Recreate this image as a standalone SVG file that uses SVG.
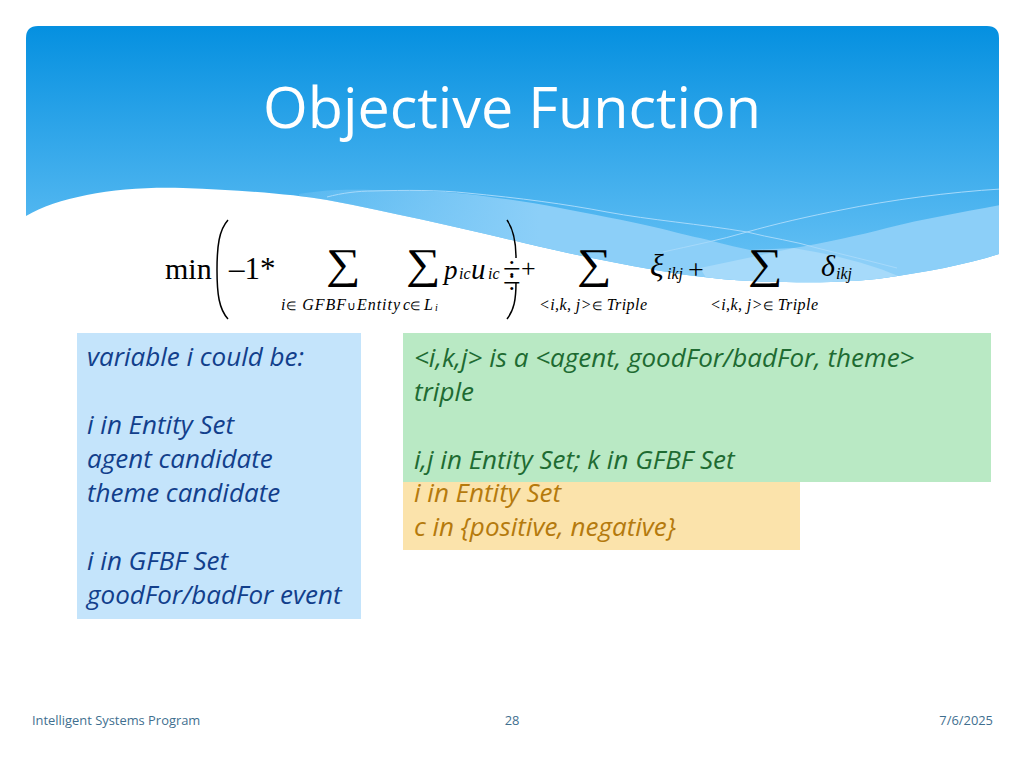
<svg xmlns="http://www.w3.org/2000/svg" width="1024" height="768" viewBox="0 0 1024 768">
<style>
.b{font-family:"Open Sans","Noto Sans",sans-serif;font-style:italic;font-size:26px}
.m{font-family:"Liberation Serif",serif;fill:#000}
.i{font-style:italic}
.s{font-size:16px;font-style:italic}
.e{font-size:12px;font-style:normal}
.big{font-size:42px}
.f{font-family:"Open Sans",sans-serif;font-size:12.9px;fill:#3f6f8f}
.w{fill:none;stroke:#a6d9fa;stroke-width:1}
.p{fill:none;stroke:#000;stroke-width:1.5}
</style>
<defs>
<linearGradient id="sky" gradientUnits="userSpaceOnUse" x1="0" y1="26" x2="0" y2="285"><stop offset="0" stop-color="#0590e0"/><stop offset="1" stop-color="#6cc4f6"/></linearGradient>
<linearGradient id="band" gradientUnits="userSpaceOnUse" x1="300" y1="0" x2="540" y2="0"><stop offset="0" stop-color="#8ccff8" stop-opacity=".25"/><stop offset="1" stop-color="#8ccff8"/></linearGradient>
<clipPath id="wave"><path d="M38 26H987Q999 26 999 38V254C965 265 925 272 884 278C860 281 830 283 786 282C745 282 700 278 655 270C610 262 570 254 524 243C460 228 400 214 327 200C290 194 240 190 183 188C120 186 60 196 26 216V38Q26 26 38 26Z"/></clipPath>
</defs>
<rect width="1024" height="768" fill="#fff"/>
<g id="header" clip-path="url(#wave)">
<rect x="20" y="20" width="985" height="280" fill="url(#sky)"/>
<path d="M299 194C320 190 345 189 373 190C405 190 440 191 467 194C500 198 530 202 560 208C590 214 625 220 654 227C675 232 690 236 700 238C720 243 735 247 750 250L794 248C825 243 860 235 887 228C925 218 965 212 1005 204V300H299Z" fill="url(#band)"/>
<path d="M700 268L794 248C850 258 900 270 940 300H720Z" fill="#a6dafa"/>
<path d="M327 197C342 193 358 191 373 191C405 190 440 190 467 193C520 198 565 204 607 212C650 220 700 224 747 232C770 238 795 241 817 248C845 255 870 261 897 268" class="w"/>
<path d="M663 252C690 246 720 240 747 232C775 224 810 216 841 210C890 200 950 192 1001 189" class="w"/>
</g>
<text id="title" x="512" y="128" text-anchor="middle" font-family="'Open Sans',sans-serif" font-size="57.5" fill="#fff">Objective Function</text>
<g id="formula" class="m">
<text x="165" y="279" font-size="30">min</text>
<path d="M228 220C219 230 217 246 217 270C217 294 219 309 228 319" class="p"/>
<text x="229" y="279" font-size="31">–1*</text>
<text transform="translate(326 278) scale(1.15 1)" class="big">∑</text>
<text transform="translate(406 278) scale(1.15 1)" class="big">∑</text>
<text x="444" y="279" font-size="27" class="i">p</text><text x="459" y="279" font-size="16" class="i">ic</text>
<text x="471" y="279" font-size="29" class="i">u</text><text x="488" y="279" font-size="16" class="i">ic</text>
<path d="M507 220C514 230 516 242 516 258M516 282C516 300 514 310 507 319" class="p"/>
<text x="503" y="279" font-size="32">÷</text><text x="503" y="293" font-size="32">÷</text>
<text x="521" y="277" font-size="26">+</text>
<text transform="translate(577 278) scale(1.15 1)" class="big">∑</text>
<text x="650" y="276" font-size="32" class="i">ξ</text><text x="667" y="279" class="s">ikj</text>
<text x="688" y="279" font-size="28">+</text>
<text transform="translate(748 278) scale(1.15 1)" class="big">∑</text>
<text x="821" y="276" font-size="30" class="i">δ</text><text x="836" y="279" class="s">ikj</text>
<text x="281" y="310" class="s" textLength="119">i<tspan class="e">∈</tspan> GFBF<tspan class="e">∪</tspan>Entity</text>
<text x="403" y="310" class="s">c<tspan class="e">∈</tspan> L</text><text x="435" y="311" font-size="10" class="i">i</text>
<text x="539" y="310" class="s" textLength="108">&lt;i,k, j&gt;<tspan class="e">∈</tspan> Triple</text>
<text x="710" y="310" class="s" textLength="108">&lt;i,k, j&gt;<tspan class="e">∈</tspan> Triple</text>
</g>
<g id="box-orange"><rect x="403" y="400" width="397" height="150" fill="#fbe3ab"/>
<text x="414" y="502" class="b" fill="#b57a0d">i in Entity Set</text>
<text x="414" y="536" class="b" fill="#b57a0d">c in {positive, negative}</text></g>
<g id="box-green"><rect x="403" y="333" width="588" height="149" fill="#b9e9c4"/>
<text x="414" y="367" class="b" fill="#1e6b32">&lt;i,k,j&gt; is a &lt;agent, goodFor/badFor, theme&gt;</text>
<text x="414" y="401" class="b" fill="#1e6b32">triple</text>
<text x="414" y="469" class="b" fill="#1e6b32">i,j in Entity Set; k in GFBF Set</text></g>
<g id="box-blue"><rect x="77" y="333" width="284" height="286" fill="#c4e4fb"/>
<g class="b" fill="#123f8c">
<text x="87" y="366">variable i could be:</text>
<text x="87" y="434">i in Entity Set</text>
<text x="87" y="468">agent candidate</text>
<text x="87" y="502">theme candidate</text>
<text x="87" y="570">i in GFBF Set</text>
<text x="87" y="604">goodFor/badFor event</text></g></g>
<g id="footer">
<text x="32" y="725" class="f">Intelligent Systems Program</text>
<text x="512" y="725" class="f" text-anchor="middle">28</text>
<text x="993" y="725" class="f" text-anchor="end">7/6/2025</text></g>
</svg>
